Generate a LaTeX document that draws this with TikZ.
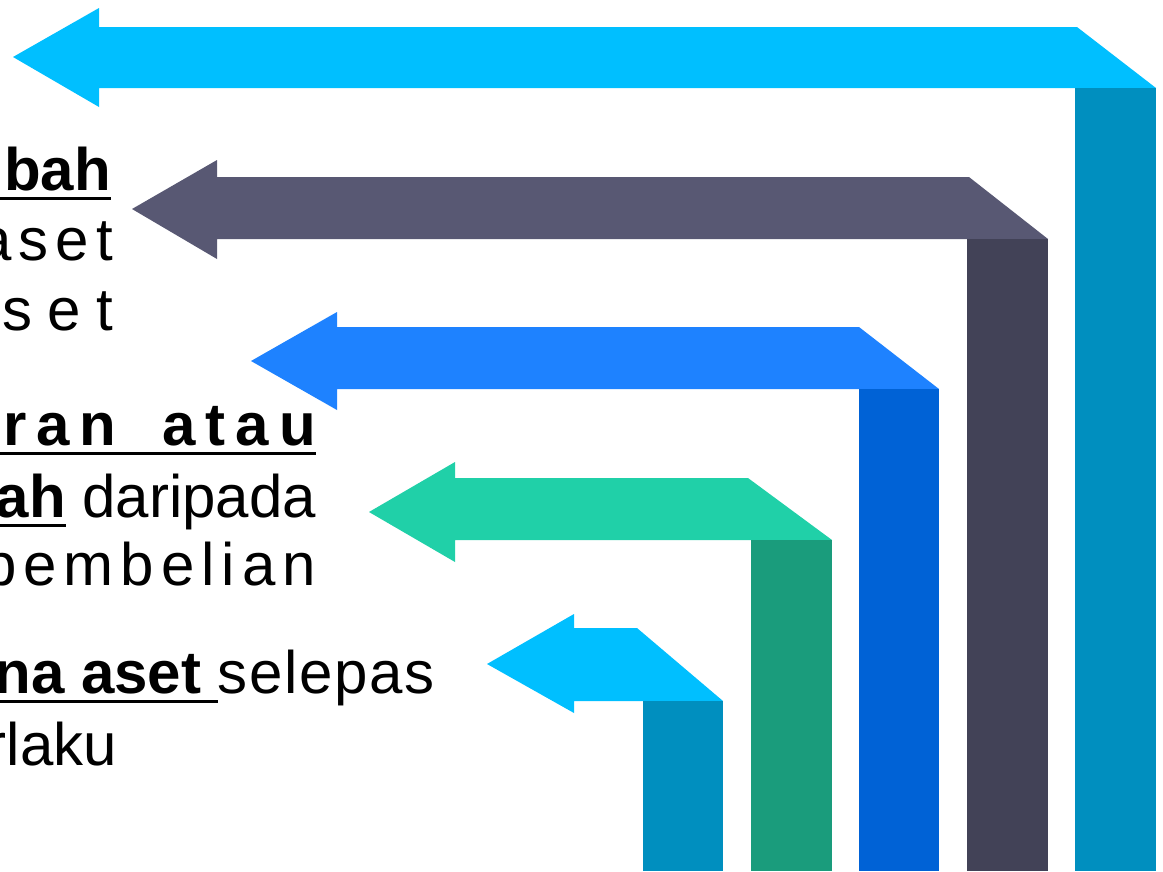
\documentclass[tikz,border=0pt]{standalone}
\usepackage{fontspec}
\setmainfont{Liberation Sans}
\definecolor{lb}{HTML}{00BFFF}
\definecolor{lbbar}{HTML}{008FBF}
\definecolor{slate}{HTML}{585873}
\definecolor{slatebar}{HTML}{424257}
\definecolor{blu}{HTML}{1E82FF}
\definecolor{blubar}{HTML}{0062D6}
\definecolor{teal1}{HTML}{20D0A8}
\definecolor{tealbar}{HTML}{1A9C7C}
\newsavebox\ulbox
\newcommand\ulx[1]{\sbox\ulbox{#1}\rlap{\rule[-9.5pt]{\wd\ulbox}{3pt}}\usebox\ulbox}
\newlength\lsp
\newcommand\LK{\kern\lsp}
\begin{document}
\begin{tikzpicture}[x=1pt,y=-1pt,
  txt/.style={inner sep=0pt, outer sep=0pt, font=\fontsize{60}{70}\selectfont, text=black}]
\useasboundingbox (0,0) rectangle (1163,871);
\clip (0,0) rectangle (1163,871);
% arrow 1
\fill[lb] (13,57) -- (99,8) -- (99,27) -- (1077,27) -- (1156,88) -- (99,88) -- (99,107) -- cycle;
\fill[lbbar] (1075,88) rectangle (1156,871);
% arrow 2
\fill[slate] (132,209) -- (217,160) -- (217,177) -- (969,177) -- (1048,239) -- (217,239) -- (217,259) -- cycle;
\fill[slatebar] (967,239) rectangle (1048,871);
% arrow 3
\fill[blu] (251,361) -- (337,312) -- (337,327) -- (859,327) -- (939,389) -- (337,389) -- (337,410) -- cycle;
\fill[blubar] (859,389) rectangle (939,871);
% arrow 4
\fill[teal1] (369,512) -- (455,462) -- (455,478) -- (748,478) -- (832,540) -- (455,540) -- (455,562) -- cycle;
\fill[tealbar] (751,540) rectangle (832,871);
% arrow 5
\fill[lb] (487,664) -- (574,614) -- (574,628) -- (637,628) -- (723,701) -- (574,701) -- (574,713) -- cycle;
\fill[lbbar] (643,701) rectangle (723,871);
% texts
\node[txt,anchor=base east] (t1) at (111,190) {\textbf{\ulx{mbah}}};
\node[txt,anchor=base east] (t2) at (113,260) {\setlength\lsp{7pt}a\LK s\LK e\LK t};
\node[txt,anchor=base east] (t3) at (113,330) {\setlength\lsp{15pt}s\LK e\LK t};
\node[txt,anchor=base east] (t4) at (316,445) {\setlength\lsp{10pt}\bfseries\ulx{a\LK r\LK a\LK n\hspace{46pt}a\LK t\LK a\LK u}};
\node[txt,anchor=base east] (t5) at (316,517) {\textbf{\ulx{ah}} daripada};
\node[txt,anchor=base east] (t6) at (316,585) {\setlength\lsp{7pt}p\LK e\LK m\LK b\LK e\LK l\LK i\LK a\LK n};
\node[txt,anchor=base east] (t7) at (435,693) {\textbf{\ulx{na aset }}\setlength\lsp{1.7pt}s\LK e\LK l\LK e\LK p\LK a\LK s};
\node[txt,anchor=base west] (t8) at (-13,765) {rlaku};
\end{tikzpicture}
\end{document}
